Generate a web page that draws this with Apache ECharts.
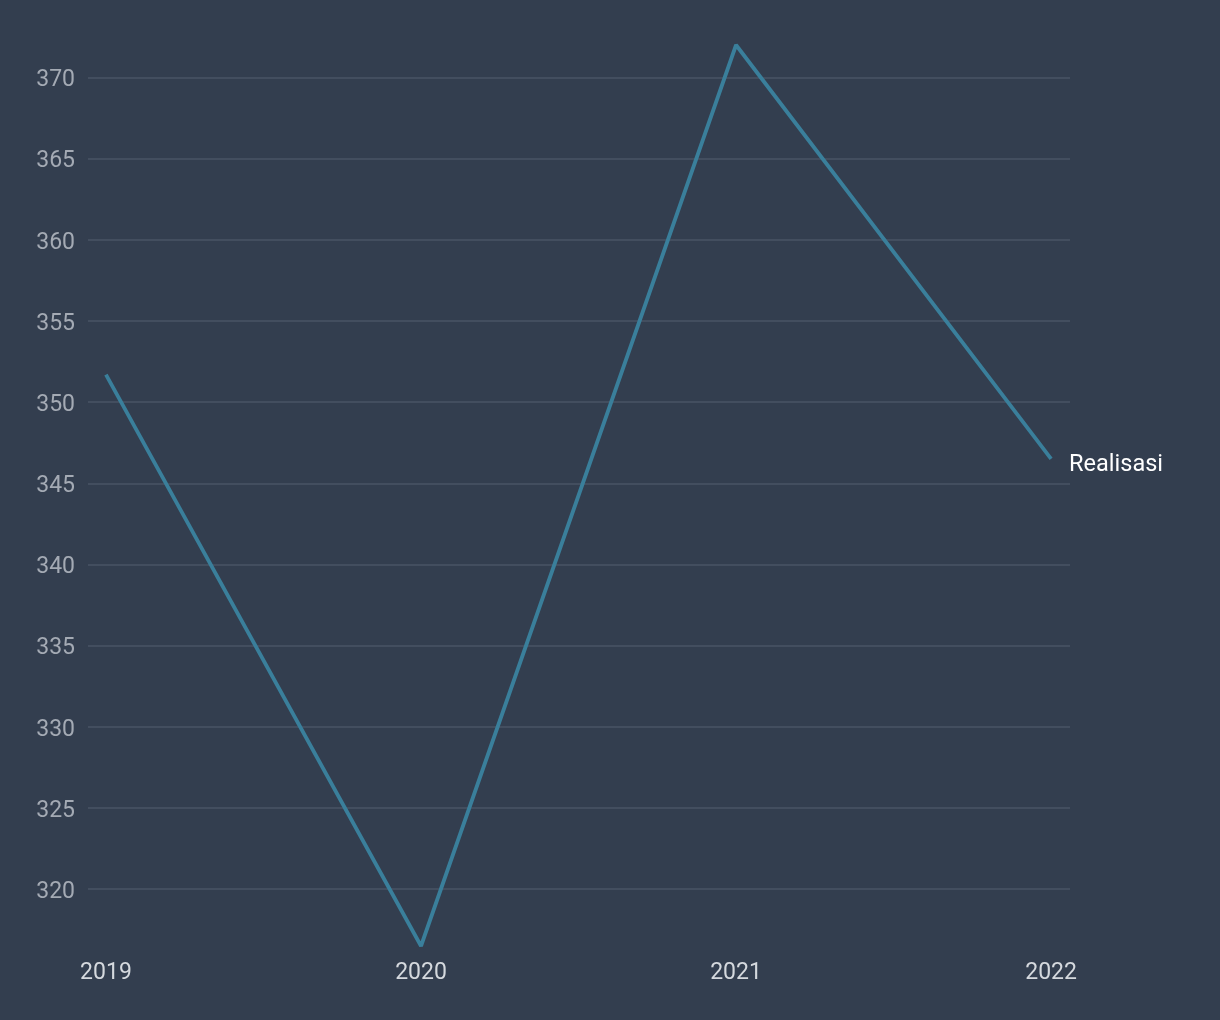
<!DOCTYPE html>
<html><head><meta charset="utf-8">
<script src="https://cdn.jsdelivr.net/npm/echarts@6/dist/echarts.min.js"></script>
<style>html,body{margin:0;padding:0;background:#333e4f;}#c{width:1220px;height:1020px;}</style>
</head><body><div id="c"></div>
<script>
const years = [2019, 2020, 2021, 2022];
const realisasi = [351.7, 316.5, 372.0, 346.5];
const yTicks = [320, 325, 330, 335, 340, 345, 350, 355, 360, 365, 370];
const seriesName = 'Realisasi';

const chart = echarts.init(document.getElementById('c'));
chart.setOption({
  backgroundColor: '#333e4f',
  animation: false,
  grid: { left: 88, right: 150, top: 45, bottom: 74, containLabel: false },
  xAxis: {
    type: 'value',
    min: 2018.943,
    max: 2022.06,
    axisLine: { show: false },
    axisTick: { show: false, customValues: years },
    splitLine: { show: false },
    axisLabel: {
      customValues: years,
      color: '#d5d9de',
      fontFamily: 'Roboto',
      fontSize: 23,
      margin: 16,
      formatter: v => String(Math.round(v))
    }
  },
  yAxis: {
    type: 'value',
    min: 316.5,
    max: 372.0,
    axisLine: { show: false },
    axisTick: { show: false, customValues: yTicks },
    splitLine: { show: true, lineStyle: { color: '#4a5564', width: 1.5 } },
    axisLabel: {
      customValues: yTicks,
      color: '#a4aab4',
      fontFamily: 'Roboto',
      fontSize: 23,
      margin: 13,
      formatter: '{a|{value}}',
      rich: { a: { fontFamily: 'Roboto', fontSize: 23, color: '#a4aab4', padding: [6, 0, 0, 0] } }
    }
  },
  series: [{
    name: seriesName,
    type: 'line',
    data: years.map((y, i) => [y, realisasi[i]]),
    showSymbol: false,
    lineStyle: { color: '#3a7f9b', width: 3.8 },
    itemStyle: { color: '#3a7f9b' },
    endLabel: {
      show: true,
      formatter: '{a}',
      color: '#ffffff',
      fontFamily: 'Roboto',
      fontSize: 23.5,
      distance: 18,
      offset: [0, 6]
    }
  }]
});
</script>
</body></html>
